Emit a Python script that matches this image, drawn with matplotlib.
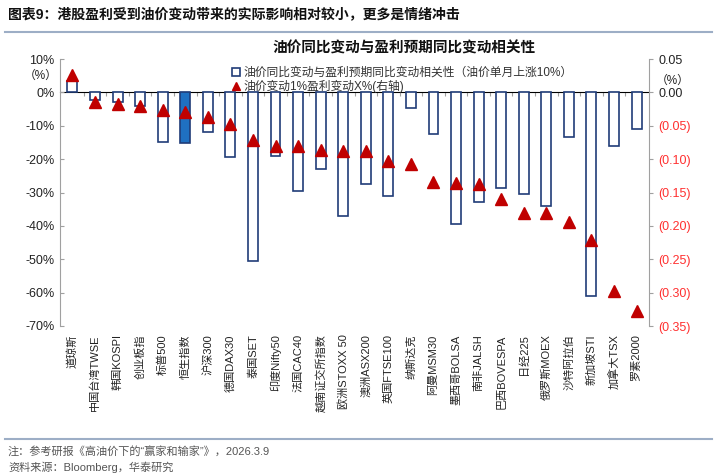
import matplotlib.pyplot as plt
import numpy as np
from matplotlib.patches import Patch
from matplotlib.lines import Line2D
from matplotlib.ticker import FixedLocator

plt.rcParams['font.family'] = ['Liberation Sans', 'Noto Sans CJK SC', 'DejaVu Sans']

# data
markets = ['道琼斯', '中国台湾TWSE', '韩国KOSPI', '创业板指', '标普500', '恒生指数', '沪深300',
           '德国DAX30', '泰国SET', '印度Nifty50', '法国CAC40', '越南证交所指数', '欧洲STOXX 50',
           '澳洲ASX200', '英国FTSE100', '纳斯达克', '阿曼MSM30', '墨西哥BOLSA', '南非JALSH',
           '巴西BOVESPA', '日经225', '俄罗斯MOEX', '沙特阿拉伯', '新加坡STI', '加拿大TSX', '罗素2000']
corr = [3.5, -2.3, -3.0, -4.0, -14.8, -15.3, -11.8, -19.3, -50.5, -19.1, -29.5, -23.1, -37.0,
        -27.5, -31.0, -4.8, -12.6, -39.4, -32.8, -28.6, -30.4, -34.1, -13.5, -61.1, -16.1, -11.0]
sens = [0.026, -0.014, -0.017, -0.021, -0.027, -0.029, -0.037, -0.048, -0.071, -0.080, -0.081,
        -0.087, -0.088, -0.088, -0.103, -0.108, -0.134, -0.136, -0.138, -0.160, -0.180, -0.180,
        -0.194, -0.221, -0.297, -0.328]
highlight = '恒生指数'

navy = '#203C78'
red = '#C00000'
grey = '#A0A0A0'

fig = plt.figure(figsize=(7.19, 4.75), dpi=100)
ax = fig.add_axes([60 / 719, 1 - 326 / 475, 589 / 719, 267 / 475])

x = np.arange(len(markets))
faces = ['#1F70C1' if m == highlight else 'white' for m in markets]
ax.bar(x, corr, width=0.44, color=faces, edgecolor=navy, linewidth=1.2, zorder=2)

ax.set_xlim(-0.55, len(markets) - 0.45)
ax.set_ylim(-70, 10)
ax.set_yticks(np.arange(-70, 11, 10))
ax.set_yticklabels([f'{v}%' for v in range(-70, 11, 10)], fontsize=9, color='#222222')
ax.tick_params(axis='y', direction='in', length=3, color=grey, pad=4)
ax.set_xticks(x)
ax.set_xticklabels(markets, rotation=90, fontsize=8, color='#222222')
ax.tick_params(axis='x', length=0, pad=6)
for s in ['top', 'right', 'bottom']:
    ax.spines[s].set_visible(False)
ax.spines['left'].set_color(grey)

# zero line with small ticks between categories
zero = ax.secondary_xaxis(70 / 80)
zero.set_xticks(x[:-1] + 0.5)
zero.set_xticklabels([])
zero.tick_params(direction='in', length=3, color=grey)
zero.spines['bottom'].set_color(grey)

ax2 = ax.twinx()
ax2.plot(x, sens, linestyle='none', marker='^', markersize=9, color=red, zorder=3)
ax2.set_ylim(-0.35, 0.05)
rticks = np.round(np.arange(-0.35, 0.051, 0.05), 2)
ax2.yaxis.set_major_locator(FixedLocator(rticks))
ax2.set_yticklabels([f'{abs(v):.2f}' if v > -0.001 else f'({-v:.2f})' for v in rticks], fontsize=9)
for lab, v in zip(ax2.get_yticklabels(), rticks):
    lab.set_color('#222222' if v > -0.001 else '#FF3030')
ax2.tick_params(axis='y', direction='out', length=3, color=grey, pad=4)
for s in ['top', 'left', 'bottom']:
    ax2.spines[s].set_visible(False)
ax2.spines['right'].set_color(grey)

fig.text(58 / 719, 1 - 76 / 475, '（%）', fontsize=8.5, ha='right', va='center', color='#222222')
fig.text(656 / 719, 1 - 81 / 475, '（%）', fontsize=8.5, ha='left', va='center', color='#222222')

fig.text(404 / 719, 1 - 48 / 475, '油价同比变动与盈利预期同比变动相关性', fontsize=10.5,
         fontweight='bold', ha='center', va='center', color='#111111')

handles = [Patch(facecolor='white', edgecolor=navy, linewidth=1.2),
           Line2D([], [], linestyle='none', marker='^', markersize=6, color=red)]
labels = ['油价同比变动与盈利预期同比变动相关性（油价单月上涨10%）', '油价变动1%盈利变动X%(右轴)']
fig.legend(handles, labels, loc='upper left', bbox_to_anchor=(226 / 719, 1 - 61 / 475),
           frameon=False, fontsize=8.5, handlelength=0.7, handleheight=0.7,
           handletextpad=0.3, labelspacing=0.1, borderpad=0, labelcolor='#333333')

# header and footer
fig.text(8 / 719, 1 - 14 / 475, '图表9：港股盈利受到油价变动带来的实际影响相对较小，更多是情绪冲击',
         fontsize=10, fontweight='bold', ha='left', va='center', color='#111111')
fig.add_artist(Line2D([5 / 719, 712 / 719], [1 - 32 / 475, 1 - 32 / 475], color='#9DAEC6', linewidth=1.5))
fig.add_artist(Line2D([5 / 719, 712 / 719], [1 - 439 / 475, 1 - 439 / 475], color='#9DAEC6', linewidth=1.5))
fig.text(8 / 719, 1 - 451 / 475, '注：参考研报《高油价下的“赢家和输家”》，2026.3.9',
         fontsize=8, ha='left', va='center', color='#555555')
fig.text(8 / 719, 1 - 467 / 475, '资料来源：Bloomberg，华泰研究',
         fontsize=8, ha='left', va='center', color='#555555')

fig.savefig('out.png', dpi=100)
